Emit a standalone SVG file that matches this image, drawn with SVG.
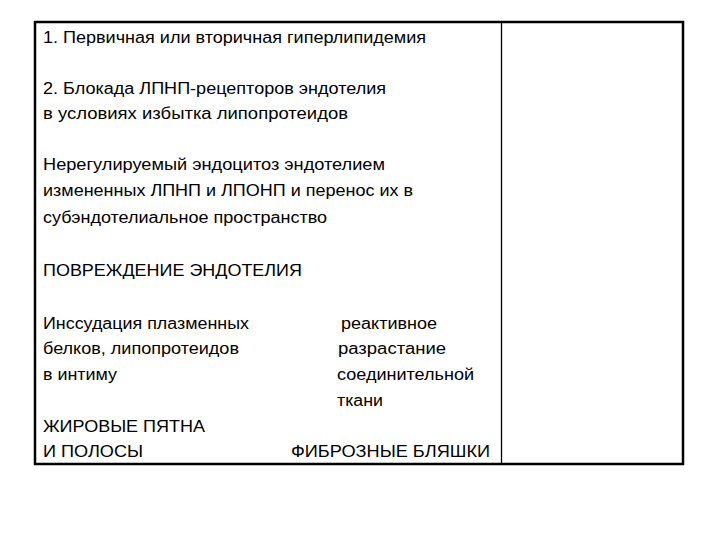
<svg xmlns="http://www.w3.org/2000/svg" width="720" height="540" viewBox="0 0 720 540">
<style>
text{font-family:"Liberation Sans",Arial,sans-serif;font-size:16px;fill:#000}
</style>
<rect width="720" height="540" fill="#fff"/>
<g id="table">
<rect x="35" y="22" width="648" height="442" fill="none" stroke="#000" stroke-width="2.5"/>
<line x1="501.5" y1="22" x2="501.5" y2="464" stroke="#000" stroke-width="1.3"/>
</g>
<g id="left">
<text x="43" y="43" textLength="383" lengthAdjust="spacingAndGlyphs">1. Первичная или вторичная гиперлипидемия</text>
<text x="43" y="94" textLength="343" lengthAdjust="spacingAndGlyphs">2. Блокада ЛПНП-рецепторов эндотелия</text>
<text x="43" y="119" textLength="305" lengthAdjust="spacingAndGlyphs">в условиях избытка липопротеидов</text>
<text x="43" y="170" textLength="342" lengthAdjust="spacingAndGlyphs">Нерегулируемый эндоцитоз эндотелием</text>
<text x="43" y="196" textLength="370" lengthAdjust="spacingAndGlyphs">измененных ЛПНП и ЛПОНП и перенос их в</text>
<text x="43" y="223" textLength="284" lengthAdjust="spacingAndGlyphs">субэндотелиальное пространство</text>
<text x="43" y="276" textLength="259" lengthAdjust="spacingAndGlyphs">ПОВРЕЖДЕНИЕ ЭНДОТЕЛИЯ</text>
<text x="43" y="329" textLength="206" lengthAdjust="spacingAndGlyphs">Инссудация плазменных</text>
<text x="43" y="354" textLength="196" lengthAdjust="spacingAndGlyphs">белков, липопротеидов</text>
<text x="43" y="380" textLength="74" lengthAdjust="spacingAndGlyphs">в интиму</text>
<text x="43" y="432" textLength="162" lengthAdjust="spacingAndGlyphs">ЖИРОВЫЕ ПЯТНА</text>
<text x="43" y="457" textLength="100" lengthAdjust="spacingAndGlyphs">И ПОЛОСЫ</text>
</g>
<g id="right">
<text x="341" y="329" textLength="96" lengthAdjust="spacingAndGlyphs">реактивное</text>
<text x="338" y="354" textLength="108" lengthAdjust="spacingAndGlyphs">разрастание</text>
<text x="337" y="380" textLength="137" lengthAdjust="spacingAndGlyphs">соединительной</text>
<text x="337" y="406" textLength="46" lengthAdjust="spacingAndGlyphs">ткани</text>
<text x="291" y="457" textLength="199" lengthAdjust="spacingAndGlyphs">ФИБРОЗНЫЕ БЛЯШКИ</text>
</g>
</svg>
